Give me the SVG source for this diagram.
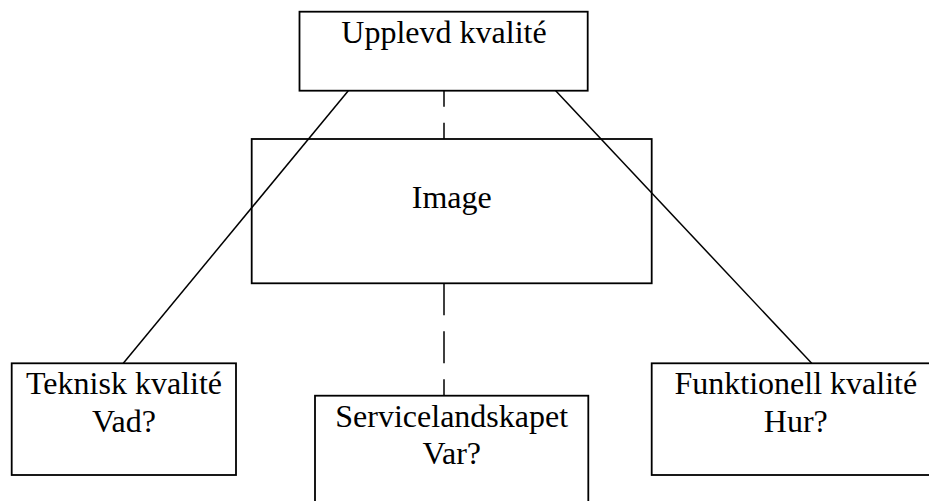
<svg xmlns="http://www.w3.org/2000/svg" width="929" height="501" viewBox="0 0 929 501">
<style>
.box{fill:none;stroke:#000;stroke-width:1.8}
.ln{fill:none;stroke:#000;stroke-width:1.5}
.dash{fill:none;stroke:#000;stroke-width:1.5;stroke-dasharray:32 16}
text{font-family:"Liberation Serif","Times New Roman",serif;font-size:32px;fill:#000;text-anchor:middle}
</style>
<rect width="929" height="501" fill="#fff"/>
<g id="upplevd">
<rect class="box" x="299.5" y="11.7" width="288.2" height="79"/>
<text x="444" y="42.7">Upplevd kvalité</text>
</g>
<g id="image">
<rect class="box" x="251.7" y="139" width="400" height="144.3"/>
<text x="451.7" y="208.3">Image</text>
</g>
<g id="teknisk">
<rect class="box" x="11.7" y="363.3" width="224.3" height="111.7"/>
<text x="124" y="394">Teknisk kvalité</text>
<text x="124" y="431.5">Vad?</text>
</g>
<g id="service">
<rect class="box" x="315" y="395.7" width="273.3" height="120"/>
<text x="451.7" y="426.7">Servicelandskapet</text>
<text x="451.7" y="464.3">Var?</text>
</g>
<g id="funktionell">
<rect class="box" x="651.7" y="363.3" width="288" height="111.7"/>
<text x="795.8" y="394">Funktionell kvalité</text>
<text x="795.8" y="431.5">Hur?</text>
</g>
<g id="connectors">
<line class="ln" x1="348.3" y1="90.7" x2="123.3" y2="363.3"/>
<line class="ln" x1="555.7" y1="90.7" x2="811.7" y2="363.3"/>
<line class="dash" x1="444" y1="90.7" x2="444" y2="139" stroke-dashoffset="16"/>
<line class="dash" x1="444" y1="283.3" x2="444" y2="395.7"/>
</g>
</svg>
